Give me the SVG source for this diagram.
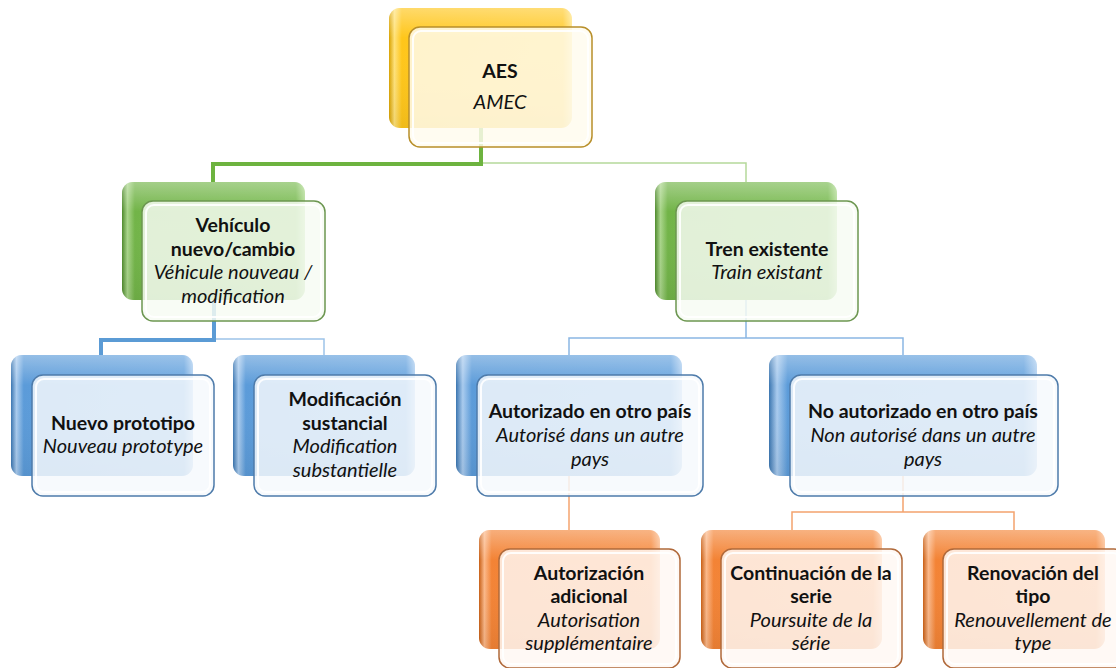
<svg xmlns="http://www.w3.org/2000/svg" width="1116" height="668" viewBox="0 0 1116 668">
<defs>
<linearGradient id="gGold" x1="0" y1="0" x2="1" y2="0">
<stop offset="0" stop-color="#D9A200"/><stop offset="0.03" stop-color="#FFE27A"/><stop offset="0.07" stop-color="#FFC61A"/><stop offset="0.95" stop-color="#FFCB2E"/><stop offset="1" stop-color="#FFE58A"/>
</linearGradient>
<linearGradient id="gGreen" x1="0" y1="0" x2="1" y2="0">
<stop offset="0" stop-color="#4E8A2C"/><stop offset="0.03" stop-color="#A9D58A"/><stop offset="0.07" stop-color="#72B448"/><stop offset="0.95" stop-color="#7ABB52"/><stop offset="1" stop-color="#B3DC96"/>
</linearGradient>
<linearGradient id="gBlue" x1="0" y1="0" x2="1" y2="0">
<stop offset="0" stop-color="#3A75B0"/><stop offset="0.03" stop-color="#A9CBEE"/><stop offset="0.07" stop-color="#5B9BD9"/><stop offset="0.95" stop-color="#66A3DE"/><stop offset="1" stop-color="#AFCFF0"/>
</linearGradient>
<linearGradient id="gOrange" x1="0" y1="0" x2="1" y2="0">
<stop offset="0" stop-color="#C85E14"/><stop offset="0.03" stop-color="#FBB889"/><stop offset="0.07" stop-color="#F38335"/><stop offset="0.95" stop-color="#F58C42"/><stop offset="1" stop-color="#FBBE92"/>
</linearGradient>
<linearGradient id="shine" x1="0" y1="0" x2="0" y2="1">
<stop offset="0" stop-color="#ffffff" stop-opacity="0.35"/><stop offset="0.25" stop-color="#ffffff" stop-opacity="0"/><stop offset="1" stop-color="#000000" stop-opacity="0.06"/>
</linearGradient>
</defs>
<style>
.back{stroke:none}
.gold .back{fill:url(#gGold)}
.green .back{fill:url(#gGreen)}
.blue .back{fill:url(#gBlue)}
.orange .back{fill:url(#gOrange)}
.sh{fill:url(#shine)}
.front{stroke-width:1.5;fill-opacity:0.84}
.gold .front{fill:#FFFBEE;stroke:#B88F2A}
.green .front{fill:#F7FBF3;stroke:#6C9650}
.blue .front{fill:#F5F9FD;stroke:#4E7BAA}
.orange .front{fill:#FFF8F3;stroke:#B0693A}
.inner{fill:none;stroke:#ffffff;stroke-width:2;stroke-opacity:0.9}
text{font-family:Lato,"Open Sans","Liberation Sans",sans-serif;font-size:19.5px;fill:#111;text-anchor:middle}
.b{font-weight:bold}
.i{font-style:italic;font-size:20px}
.cg{fill:none;stroke:#B5D99B;stroke-width:1.5}
.cgt{fill:none;stroke:#6DB33F;stroke-width:4}
.cb{fill:none;stroke:#9DC3E9;stroke-width:1.5}
.cbt{fill:none;stroke:#5B9BD5;stroke-width:4}
.cbm{fill:none;stroke:#8AB6E3;stroke-width:1.5}
.co{fill:none;stroke:#F4A36E;stroke-width:1.5}
</style>
<g id="connectors">
<path class="cg" d="M481,163 H746 V182"/>
<path class="cgt" d="M481,127 V164 H213 V182"/>
<path class="cb" d="M214,339 H324 V355"/>
<path class="cbt" d="M214,300 V340 H101 V355"/>
<path class="cbm" d="M746,300 V338 H569 V355 M746,338 H903 V355"/>
<path class="co" d="M569,476 V530"/>
<path class="co" d="M903,476 V512 H792 V530 M903,512 H1014 V530"/>
</g>
<g id="n-aes" class="gold">
<rect class="back" x="389" y="8" width="183" height="120" rx="11"/>
<rect class="sh" x="389" y="8" width="183" height="120" rx="11"/>
<rect class="front" x="409" y="27" width="183" height="120" rx="11"/>
<rect class="inner" x="413" y="31" width="175" height="112" rx="8"/>
<text class="b" x="500" y="78">AES</text>
<text class="i" x="500" y="109">AMEC</text>
</g>
<g id="n-vehiculo" class="green">
<rect class="back" x="122" y="182" width="183" height="118" rx="11"/>
<rect class="sh" x="122" y="182" width="183" height="118" rx="11"/>
<rect class="front" x="142" y="201" width="183" height="120" rx="11"/>
<rect class="inner" x="146" y="205" width="175" height="112" rx="8"/>
<text class="b" x="233" y="232">Vehículo</text>
<text class="b" x="233" y="256">nuevo/cambio</text>
<text class="i" x="233" y="279">Véhicule nouveau /</text>
<text class="i" x="233" y="303">modification</text>
</g>
<g id="n-tren" class="green">
<rect class="back" x="655" y="182" width="182" height="118" rx="11"/>
<rect class="sh" x="655" y="182" width="182" height="118" rx="11"/>
<rect class="front" x="676" y="201" width="182" height="120" rx="11"/>
<rect class="inner" x="680" y="205" width="174" height="112" rx="8"/>
<text class="b" x="767" y="256">Tren existente</text>
<text class="i" x="767" y="279">Train existant</text>
</g>
<g id="n-nuevo" class="blue">
<rect class="back" x="11" y="355" width="182" height="121" rx="11"/>
<rect class="sh" x="11" y="355" width="182" height="121" rx="11"/>
<rect class="front" x="32" y="375" width="182" height="121" rx="11"/>
<rect class="inner" x="36" y="379" width="174" height="113" rx="8"/>
<text class="b" x="123" y="430">Nuevo prototipo</text>
<text class="i" x="123" y="453">Nouveau prototype</text>
</g>
<g id="n-modif" class="blue">
<rect class="back" x="233" y="355" width="182" height="121" rx="11"/>
<rect class="sh" x="233" y="355" width="182" height="121" rx="11"/>
<rect class="front" x="254" y="375" width="182" height="121" rx="11"/>
<rect class="inner" x="258" y="379" width="174" height="113" rx="8"/>
<text class="b" x="345" y="406">Modificación</text>
<text class="b" x="345" y="430">sustancial</text>
<text class="i" x="345" y="453">Modification</text>
<text class="i" x="345" y="477">substantielle</text>
</g>
<g id="n-autorizado" class="blue">
<rect class="back" x="456" y="355" width="226" height="121" rx="11"/>
<rect class="sh" x="456" y="355" width="226" height="121" rx="11"/>
<rect class="front" x="477" y="375" width="226" height="121" rx="11"/>
<rect class="inner" x="481" y="379" width="218" height="113" rx="8"/>
<text class="b" x="590" y="418">Autorizado en otro país</text>
<text class="i" x="590" y="442">Autorisé dans un autre</text>
<text class="i" x="590" y="466">pays</text>
</g>
<g id="n-noautorizado" class="blue">
<rect class="back" x="769" y="355" width="268" height="121" rx="11"/>
<rect class="sh" x="769" y="355" width="268" height="121" rx="11"/>
<rect class="front" x="790" y="375" width="268" height="121" rx="11"/>
<rect class="inner" x="794" y="379" width="260" height="113" rx="8"/>
<text class="b" x="923" y="418">No autorizado en otro país</text>
<text class="i" x="923" y="442">Non autorisé dans un autre</text>
<text class="i" x="923" y="466">pays</text>
</g>
<g id="n-adicional" class="orange">
<rect class="back" x="479" y="530" width="181" height="119" rx="11"/>
<rect class="sh" x="479" y="530" width="181" height="119" rx="11"/>
<rect class="front" x="499" y="549" width="181" height="119" rx="11"/>
<rect class="inner" x="503" y="553" width="173" height="111" rx="8"/>
<text class="b" x="589" y="580">Autorización</text>
<text class="b" x="589" y="603">adicional</text>
<text class="i" x="589" y="627">Autorisation</text>
<text class="i" x="589" y="650">supplémentaire</text>
</g>
<g id="n-continuacion" class="orange">
<rect class="back" x="701" y="530" width="181" height="119" rx="11"/>
<rect class="sh" x="701" y="530" width="181" height="119" rx="11"/>
<rect class="front" x="721" y="549" width="181" height="119" rx="11"/>
<rect class="inner" x="725" y="553" width="173" height="111" rx="8"/>
<text class="b" x="811" y="580">Continuación de la</text>
<text class="b" x="811" y="603">serie</text>
<text class="i" x="811" y="627">Poursuite de la</text>
<text class="i" x="811" y="650">série</text>
</g>
<g id="n-renovacion" class="orange">
<rect class="back" x="923" y="530" width="182" height="119" rx="11"/>
<rect class="sh" x="923" y="530" width="182" height="119" rx="11"/>
<rect class="front" x="943" y="549" width="182" height="119" rx="11"/>
<rect class="inner" x="947" y="553" width="174" height="111" rx="8"/>
<text class="b" x="1033" y="580">Renovación del</text>
<text class="b" x="1033" y="603">tipo</text>
<text class="i" x="1033" y="627">Renouvellement de</text>
<text class="i" x="1033" y="650">type</text>
</g>
</svg>
